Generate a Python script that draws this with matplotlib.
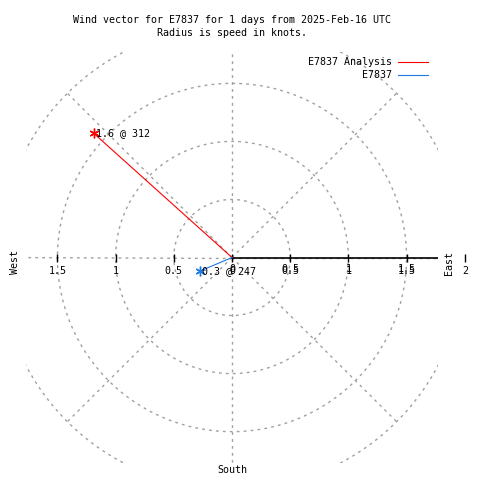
import numpy as np
import matplotlib
matplotlib.use("Agg")
import matplotlib.pyplot as plt

# wind vectors: speed (knots) and direction (degrees, compass)
series = ["E7837 Analysis", "E7837"]
speeds = [1.6, 0.3]
directions = [312, 247]
colors = ["#ff0000", "#1e78e6"]

ring_radii = [0.5, 1.0, 1.5, 2.0]
spoke_angles = [0, 45, 90, 135, 180, 225, 270, 315]
left_ticks = [-1.5, -1.0, -0.5]
left_labels = ["1.5", "1", "0.5"]
right_ticks = [0.0, 0.5, 1.0, 1.5]
right_labels = ["0", "0.5", "1", "1.5"]

lim = 1.77
fs = 7.2
mono = "DejaVu Sans Mono"
plt.rcParams["font.family"] = mono

fig = plt.figure(figsize=(4.8, 4.8), dpi=100)
ax = fig.add_axes([26 / 480, 1 - 463 / 480, 412 / 480, 411 / 480])
ax.set_xlim(-lim, lim)
ax.set_ylim(-lim, lim)
ax.set_axis_off()

grid = dict(color="#a0a0a0", lw=1, ls=(0, (2, 3)))
t = np.linspace(0, 2 * np.pi, 400)
for r in ring_radii:
    ax.plot(r * np.cos(t), r * np.sin(t), **grid)
for a in spoke_angles:
    ar = np.radians(a)
    ax.plot([0, 2 * np.cos(ar)], [0, 2 * np.sin(ar)], **grid)

# solid radial axis to the east with ticks
ax.plot([0, lim], [0, 0], color="black", lw=1.2)
ax.plot(left_ticks + right_ticks, [0] * 7, "|", color="black", ms=6, mew=1)
ax.plot([2.0], [0], "|", color="black", ms=6, mew=1, clip_on=False)

for x, lab in zip(left_ticks, left_labels):
    ax.annotate(lab, (x, 0), xytext=(0, -10), textcoords="offset points",
                ha="center", va="center", fontsize=fs)
for x, lab in zip(right_ticks, right_labels):
    for dy in (-10, -8.5):
        ax.annotate(lab, (x, 0), xytext=(0, dy), textcoords="offset points",
                    ha="center", va="center", fontsize=fs)
ax.annotate("2", (2.0, 0), xytext=(0, -10), textcoords="offset points",
            ha="center", va="center", fontsize=fs, annotation_clip=False)

# wind vectors
for name, sp, d, c in zip(series, speeds, directions, colors):
    th = np.radians(90 - d)
    x, y = sp * np.cos(th), sp * np.sin(th)
    ax.plot([0, x], [0, y], color=c, lw=0.8, label=name)
    ax.plot([x], [y], marker=(6, 2, 0), color=c, ms=7, mew=1)
    ax.annotate(f"{sp} @ {d}", (x, y), xytext=(1.5, 0), textcoords="offset points",
                ha="left", va="center", fontsize=fs)

ax.legend(loc="upper right", bbox_to_anchor=(428 / 480, 1 - 57 / 480),
          bbox_transform=fig.transFigure, frameon=False, markerfirst=False,
          fontsize=fs, handlelength=3, handletextpad=0.6, borderpad=0,
          borderaxespad=0, labelspacing=0.35)

fig.text(232 / 480, 1 - 20 / 480,
         "Wind vector for E7837 for 1 days from 2025-Feb-16 UTC",
         ha="center", va="center", fontsize=fs)
fig.text(232 / 480, 1 - 33 / 480, "Radius is speed in knots.",
         ha="center", va="center", fontsize=fs)
fig.text(15 / 480, 1 - 262 / 480, "West", rotation=90,
         ha="center", va="center", fontsize=fs)
fig.text(449 / 480, 1 - 263 / 480, "East", rotation=90,
         ha="center", va="center", fontsize=fs)
fig.text(232 / 480, 1 - 470 / 480, "South",
         ha="center", va="center", fontsize=fs)

fig.savefig("out.png", dpi=100)
